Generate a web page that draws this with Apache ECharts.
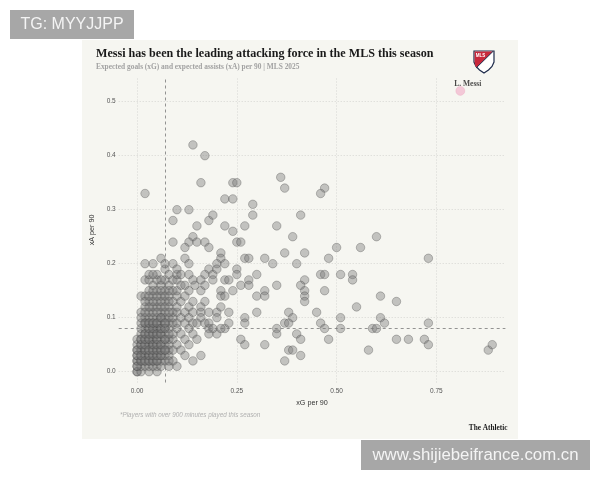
<!DOCTYPE html>
<html>
<head>
<meta charset="utf-8">
<script src="https://cdn.jsdelivr.net/npm/echarts@6/dist/echarts.min.js"></script>
<style>html,body{margin:0;padding:0;background:#fff}#c{width:600px;height:480px}</style>
</head>
<body>
<div id="c"></div>
<script>
// ---- data (xG per 90, xA per 90) ----
const lowOutputPlayers = [
[0,0],[0,0],[0,0.01],[0,0.02],[0,0.02],[0,0.03],[0,0.04],[0,0.05],[0,0.06],
[0.01,0],[0.01,0.01],[0.01,0.02],[0.01,0.03],[0.01,0.04],[0.01,0.04],[0.01,0.05],[0.01,0.06],[0.01,0.07],[0.01,0.08],[0.01,0.11],[0.01,0.14],
[0.02,0.01],[0.02,0.02],[0.02,0.03],[0.02,0.03],[0.02,0.04],[0.02,0.05],[0.02,0.06],[0.02,0.07],[0.02,0.08],[0.02,0.09],[0.02,0.10],[0.02,0.12],[0.02,0.14],[0.02,0.17],[0.02,0.20],
[0.03,0],[0.03,0.01],[0.03,0.02],[0.03,0.03],[0.03,0.04],[0.03,0.05],[0.03,0.05],[0.03,0.06],[0.03,0.07],[0.03,0.08],[0.03,0.09],[0.03,0.10],[0.03,0.11],[0.03,0.13],[0.03,0.15],[0.03,0.17],[0.03,0.18],
[0.04,0.01],[0.04,0.02],[0.04,0.03],[0.04,0.04],[0.04,0.05],[0.04,0.06],[0.04,0.06],[0.04,0.07],[0.04,0.08],[0.04,0.09],[0.04,0.10],[0.04,0.11],[0.04,0.12],[0.04,0.14],[0.04,0.16],[0.04,0.20],
[0.05,0],[0.05,0.01],[0.05,0.02],[0.05,0.03],[0.05,0.04],[0.05,0.05],[0.05,0.06],[0.05,0.07],[0.05,0.08],[0.05,0.08],[0.05,0.09],[0.05,0.10],[0.05,0.12],[0.05,0.13],[0.05,0.15],[0.05,0.17],[0.05,0.18],
[0.06,0.01],[0.06,0.02],[0.06,0.03],[0.06,0.04],[0.06,0.05],[0.06,0.06],[0.06,0.07],[0.06,0.08],[0.06,0.09],[0.06,0.10],[0.06,0.11],[0.06,0.12],[0.06,0.14],[0.06,0.16],[0.06,0.21],
[0.07,0.02],[0.07,0.03],[0.07,0.04],[0.07,0.05],[0.07,0.06],[0.07,0.07],[0.07,0.08],[0.07,0.09],[0.07,0.10],[0.07,0.11],[0.07,0.13],[0.07,0.15],[0.07,0.17],[0.07,0.19],[0.07,0.20],
[0.08,0.01],[0.08,0.03],[0.08,0.04],[0.08,0.05],[0.08,0.06],[0.08,0.08],[0.08,0.09],[0.08,0.10],[0.08,0.12],[0.08,0.14],[0.08,0.16],[0.08,0.18],
[0.09,0.02],[0.09,0.04],[0.09,0.06],[0.09,0.07],[0.09,0.09],[0.09,0.10],[0.09,0.11],[0.09,0.13],[0.09,0.15],[0.09,0.17],[0.09,0.20],
[0.10,0.01],[0.10,0.05],[0.10,0.08],[0.10,0.09],[0.10,0.11],[0.10,0.12],[0.10,0.14],[0.10,0.15],[0.10,0.17],[0.10,0.18],[0.10,0.19],
[0.11,0.04],[0.11,0.07],[0.11,0.10],[0.11,0.13],[0.11,0.16],[0.11,0.18],
[0.12,0.03],[0.12,0.06],[0.12,0.09],[0.12,0.11],[0.12,0.14],[0.12,0.16],[0.12,0.21],
[0.13,0.05],[0.13,0.08],[0.13,0.10],[0.13,0.12],[0.13,0.15],[0.13,0.18],[0.13,0.20],
[0.14,0.02],[0.14,0.07],[0.14,0.09],[0.14,0.11],[0.14,0.13],[0.14,0.17]
];
const coreRepeatPlayers = [
[0,0.01],[0,0.03],[0,0.04],[0.01,0.02],[0.01,0.03],[0.01,0.05],[0.01,0.06],[0.01,0.09],[0.01,0.10],[0.02,0.02],
[0.02,0.04],[0.02,0.05],[0.02,0.06],[0.02,0.07],[0.02,0.09],[0.02,0.11],[0.03,0.02],[0.03,0.03],[0.03,0.04],[0.03,0.06],
[0.03,0.07],[0.03,0.08],[0.03,0.09],[0.03,0.12],[0.04,0.02],[0.04,0.03],[0.04,0.04],[0.04,0.05],[0.04,0.07],[0.04,0.08],
[0.04,0.09],[0.04,0.13],[0.05,0.02],[0.05,0.03],[0.05,0.04],[0.05,0.05],[0.05,0.06],[0.05,0.07],[0.05,0.09],[0.05,0.11],
[0.06,0.03],[0.06,0.04],[0.06,0.05],[0.06,0.07],[0.06,0.08],[0.06,0.10],[0.06,0.13],[0.07,0.04],[0.07,0.06],[0.07,0.08],
[0.07,0.09],[0.07,0.12],[0.08,0.02],[0.08,0.07],[0.08,0.11],[0.02,0.13],[0.03,0.14],[0.05,0.14],[0.06,0.15],[0.04,0.15],
[0.07,0.14],[0.08,0.13],[0.06,0.17],[0.04,0.18],[0.08,0.15]
];
const otherPlayers = [
[0.14,0.42],[0.17,0.40],[0.16,0.35],[0.02,0.33],[0.24,0.35],[0.25,0.35],[0.22,0.32],[0.24,0.32],[0.10,0.30],[0.13,0.30],
[0.09,0.28],[0.18,0.28],[0.19,0.29],[0.15,0.27],[0.22,0.27],[0.24,0.26],[0.09,0.24],[0.14,0.25],[0.13,0.24],[0.15,0.24],
[0.17,0.24],[0.12,0.23],[0.18,0.23],[0.25,0.24],[0.26,0.24],
[0.36,0.36],[0.37,0.34],[0.47,0.34],[0.46,0.33],[0.29,0.31],[0.29,0.29],[0.41,0.29],[0.27,0.27],[0.35,0.27],[0.39,0.25],
[0.50,0.23],[0.37,0.22],[0.42,0.22],
[0.60,0.25],[0.56,0.23],[0.48,0.21],[0.73,0.21],[0.51,0.18],[0.54,0.18],[0.54,0.17],[0.61,0.14],[0.65,0.13],[0.55,0.12],
[0.51,0.10],[0.61,0.10],[0.62,0.09],[0.73,0.09],[0.51,0.08],[0.59,0.08],[0.60,0.08],[0.48,0.06],[0.65,0.06],[0.68,0.06],
[0.72,0.06],[0.73,0.05],[0.58,0.04],[0.88,0.04],[0.89,0.05],
[0.21,0.22],[0.21,0.21],[0.20,0.20],[0.22,0.20],[0.27,0.21],[0.28,0.21],[0.32,0.21],[0.34,0.20],[0.40,0.20],
[0.18,0.19],[0.17,0.18],[0.19,0.18],[0.20,0.19],[0.25,0.19],[0.25,0.18],[0.30,0.18],[0.16,0.17],[0.19,0.17],[0.22,0.17],
[0.23,0.17],[0.28,0.17],[0.28,0.16],[0.26,0.16],[0.35,0.16],[0.42,0.17],[0.41,0.16],[0.46,0.18],[0.47,0.18],[0.47,0.15],
[0.42,0.15],[0.42,0.14],[0.42,0.13],
[0.145,0.16],[0.16,0.15],[0.17,0.16],[0.21,0.15],[0.21,0.14],[0.22,0.14],[0.24,0.15],[0.30,0.14],[0.32,0.15],[0.32,0.14],
[0.17,0.13],[0.16,0.12],[0.16,0.11],[0.16,0.10],[0.18,0.11],[0.20,0.11],[0.21,0.12],[0.23,0.11],[0.30,0.11],[0.27,0.10],
[0.27,0.09],[0.38,0.11],[0.39,0.10],[0.37,0.09],[0.38,0.09],[0.45,0.11],[0.46,0.09],[0.47,0.08],[0.35,0.08],[0.35,0.07],
[0.40,0.07],[0.41,0.06],[0.15,0.06],[0.26,0.06],[0.27,0.05],[0.32,0.05],[0.38,0.04],[0.39,0.04],[0.41,0.03],[0.37,0.02],
[0.16,0.03],[0.18,0.08],[0.20,0.07],[0.22,0.08],[0.15,0.09],[0.17,0.09],[0.18,0.09],[0.20,0.10],[0.23,0.09],[0.19,0.08],
[0.21,0.08],[0.18,0.07]
];
const messi = [0.81, 0.52];
const messiName = 'L. Messi';
const medianXG = 0.071;
const medianXA = 0.080;
const xTicks = [0, 0.25, 0.5, 0.75];
const yTicks = [0, 0.1, 0.2, 0.3, 0.4, 0.5];

const players = lowOutputPlayers.concat(coreRepeatPlayers, otherPlayers);
const serif = '"Liberation Serif", "DejaVu Serif", serif';
const sans = '"Liberation Sans", Arial, sans-serif';

const chart = echarts.init(document.getElementById('c'), null, {renderer: 'canvas'});

const gridLines = xTicks.map(v => ({xAxis: v})).concat(yTicks.map(v => ({yAxis: v})));

chart.setOption({
  backgroundColor: '#ffffff',
  animation: false,
  grid: {left: 118.7, right: 94.6, top: 77.4, bottom: 97.5, containLabel: false},
  xAxis: {
    type: 'value', min: -0.046, max: 0.923,
    name: 'xG per 90', nameLocation: 'middle', nameGap: 17,
    nameTextStyle: {fontFamily: sans, fontSize: 7.2, color: '#333'},
    axisLine: {show: false}, axisTick: {show: false}, splitLine: {show: false},
    axisLabel: {customValues: xTicks, formatter: v => Number(v).toFixed(2), fontFamily: sans, fontSize: 6.5, color: '#555', margin: 5}
  },
  yAxis: {
    type: 'value', min: -0.02, max: 0.545,
    name: 'xA per 90', nameLocation: 'middle', nameGap: 17,
    nameTextStyle: {fontFamily: sans, fontSize: 7.2, color: '#333'},
    axisLine: {show: false}, axisTick: {show: false}, splitLine: {show: false},
    axisLabel: {customValues: yTicks, formatter: v => Number(v).toFixed(1), fontFamily: sans, fontSize: 6.5, color: '#555', margin: 3}
  },
  graphic: [
    {type: 'rect', z: -10, shape: {x: 82, y: 40, width: 436, height: 399}, style: {fill: '#f6f6f1'}},
    {type: 'text', z: 10, style: {x: 96, y: 53.5, text: 'Messi has been the leading attacking force in the MLS this season', font: 'bold 12.1px ' + serif, fill: '#1a1a1a', textVerticalAlign: 'middle'}},
    {type: 'text', z: 10, style: {x: 96, y: 66.7, text: 'Expected goals (xG) and expected assists (xA) per 90 | MLS 2025', font: 'bold 7.4px ' + serif, fill: '#a2a2a2', textVerticalAlign: 'middle'}},
    {type: 'text', z: 10, style: {x: 120, y: 415, text: '*Players with over 900 minutes played this season', font: 'italic 6.3px ' + sans, fill: '#b0b0b0', textVerticalAlign: 'middle'}},
    {type: 'text', z: 10, style: {x: 507.5, y: 428.3, text: 'The Athletic', font: 'bold 7.3px ' + serif, fill: '#1a1a1a', textAlign: 'right', textVerticalAlign: 'middle'}},
    // MLS crest
    {type: 'polygon', z: 10, shape: {points: [[474,51],[494,51],[494,62],[492,66.5],[488.5,70],[484,73],[479.5,70],[476,66.5],[474,62]]}, style: {fill: '#ffffff', stroke: '#1d2a4a', lineWidth: 1.2}},
    {type: 'polygon', z: 11, shape: {points: [[474.6,51.6],[492.8,51.6],[476.5,67.5],[475.2,65.5],[474.6,62]]}, style: {fill: '#c8283c'}},
    {type: 'line', z: 11, shape: {x1: 493, y1: 51.4, x2: 476.3, y2: 67.8}, style: {stroke: '#1d2a4a', lineWidth: 1}},
    {type: 'text', z: 12, style: {x: 480.5, y: 55.5, text: 'MLS', font: 'bold 4.5px ' + sans, fill: '#ffffff', textAlign: 'center', textVerticalAlign: 'middle'}},
    // overlays
    {type: 'rect', z: 100, shape: {x: 10, y: 10, width: 124, height: 29}, style: {fill: '#a7a7a7'}},
    {type: 'text', z: 101, style: {x: 72, y: 25, text: 'TG: MYYJJPP', font: '16px ' + sans, fill: '#f4f4f4', textAlign: 'center', textVerticalAlign: 'middle'}},
    {type: 'rect', z: 100, shape: {x: 361, y: 440, width: 229, height: 30}, style: {fill: '#a7a7a7'}},
    {type: 'text', z: 101, style: {x: 475.5, y: 455.5, text: 'www.shijiebeifrance.com.cn', font: '16.8px ' + sans, fill: '#f4f4f4', textAlign: 'center', textVerticalAlign: 'middle'}}
  ],
  series: [
    {
      type: 'scatter', data: players, symbolSize: 8.5, z: 3,
      itemStyle: {color: 'rgba(120,120,120,0.52)', borderColor: 'rgba(60,60,60,0.55)', borderWidth: 0.7},
      markLine: {
        silent: true, symbol: 'none', label: {show: false}, z: 1,
        lineStyle: {type: [1, 2], color: '#d6d6d2', width: 1},
        data: gridLines
      }
    },
    {
      type: 'scatter', data: [], z: 2,
      markLine: {
        silent: true, symbol: 'none', label: {show: false},
        lineStyle: {type: [3, 3], color: '#7a7a7a', width: 0.8},
        data: [{xAxis: medianXG}, {yAxis: medianXA}]
      }
    },
    {
      type: 'scatter', data: [messi], symbolSize: 9, z: 4,
      itemStyle: {color: 'rgba(240,150,185,0.6)', borderColor: 'rgba(230,140,175,0.6)', borderWidth: 0.5},
      label: {show: true, formatter: messiName, position: 'top', distance: 0, offset: [7.5, 2], fontFamily: serif, fontWeight: 'bold', fontSize: 7.5, color: '#1a1a1a'}
    }
  ]
});
</script>
</body>
</html>
